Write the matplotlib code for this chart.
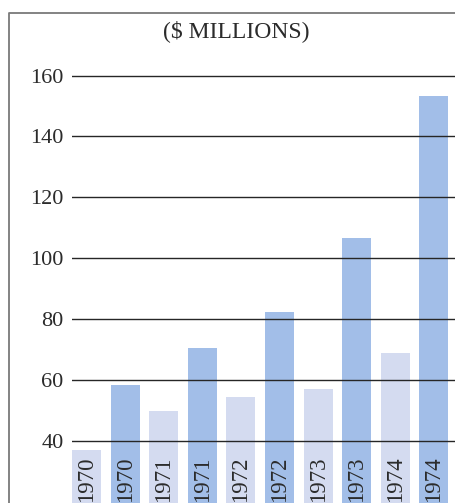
import numpy as np
import matplotlib.pyplot as plt
from matplotlib.lines import Line2D

# values (in $ millions)
years = ['1970', '1971', '1972', '1973', '1974']
light_vals = [37, 50, 54.3, 57, 69]
dark_vals = [58.5, 70.5, 82.4, 106.5, 153.3]
yticks = [40, 60, 80, 100, 120, 140, 160]

light_color = '#d4dbf0'
dark_color = '#a2bee8'
text_color = '#2b2b2b'

plt.rcParams['font.family'] = ['Liberation Serif', 'DejaVu Serif']

W, H = 455, 503
fig = plt.figure(figsize=(W / 100, H / 100), dpi=100)
fig.patch.set_facecolor('white')

# axes area: from the left end of the gridlines down to the bottom edge
ax = fig.add_axes([72 / W, 0, 1 - 72 / W, (H - 60) / H])

# interleave light/dark bars for each year
labels = []
values = []
colors = []
for y, lv, dv in zip(years, light_vals, dark_vals):
    labels += [y, y]
    values += [lv, dv]
    colors += [light_color, dark_color]
x = np.arange(len(values))
width = 0.75

ax.bar(x, values, width=width, color=colors, zorder=1)

# year labels inside the bars, rotated
for xi, lab in zip(x, labels):
    ax.text(xi, 20.1, lab, rotation=90, ha='center', va='bottom',
            fontsize=16.5, color=text_color, zorder=3)

# horizontal rules drawn over the bars
for t in yticks:
    ax.axhline(t, color='#262626', lw=1.0, zorder=2)

ax.set_xlim(-width / 2, -width / 2 + (W - 72) / 38.6)
ax.set_ylim(19.65, 165.1)
ax.set_yticks(yticks)
ax.set_yticklabels([str(t) for t in yticks])
ax.tick_params(axis='y', length=0, pad=6, labelsize=16, labelcolor=text_color)
ax.set_xticks([])
for s in ax.spines.values():
    s.set_visible(False)
ax.patch.set_alpha(0)

fig.text(236 / W, 1 - 31 / H, '($ MILLIONS)', ha='center', va='center',
         fontsize=17, color=text_color)

# outer frame: left and top border
fig.add_artist(Line2D([8.5 / W, 8.5 / W, 1.0], [0, 1 - 12.5 / H, 1 - 12.5 / H],
                      color='#7a7a7a', lw=1.3))

fig.savefig('out.png', dpi=100)
